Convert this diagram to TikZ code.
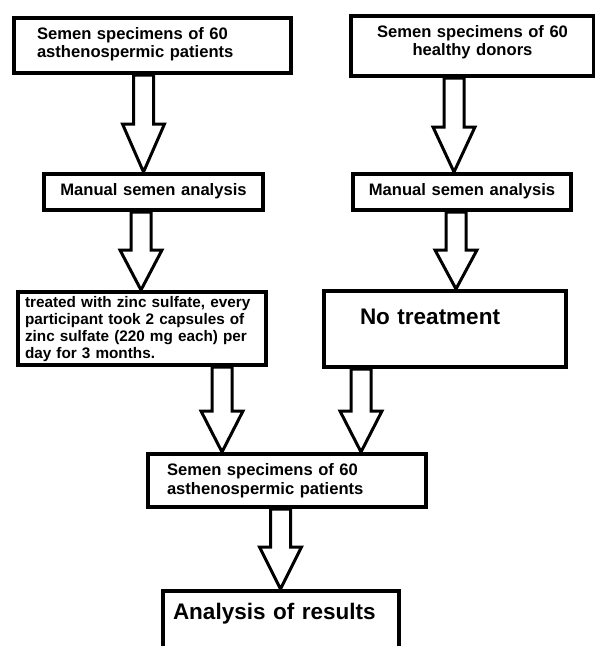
\documentclass[tikz,border=0pt]{standalone}
\usepackage{fontspec}
\setmainfont{Liberation Sans}
\usetikzlibrary{calc}

% wide hollow arrow: [head length]{x}{from node}{to node}
\newcommand{\blockarrow}[4][41]{%
  \path (#2,0 |- #3.south) coordinate (top) (#2,0 |- #4.north) coordinate (tip);
  \draw[blockarr] ([xshift=-10pt]top) -- ([xshift=-10pt,yshift=#1pt]tip)
    -- ([xshift=-21pt,yshift=#1pt]tip) -- (tip) -- ([xshift=21pt,yshift=#1pt]tip)
    -- ([xshift=10pt,yshift=#1pt]tip) -- ([xshift=10pt]top) -- cycle;}

\begin{document}
\begin{tikzpicture}[x=1pt,y=-1pt,
  box/.style={draw,line width=4pt,anchor=north west,inner ysep=0pt,align=left,
    font=\fontsize{16.6}{18}\selectfont\bfseries},
  blockarr/.style={draw,fill=white,line width=3pt,line join=miter}]
 \useasboundingbox (0,0) rectangle (595,646);
 \node[box,inner xsep=23pt,text width=231pt,text height=21.7pt,text depth=33.3pt]
   (patients) at (12,16) {Semen specimens of 60\\asthenospermic patients};
 \node[box,align=center,inner xsep=10pt,text width=223pt,text height=21pt,text depth=39pt]
   (donors) at (349,14) {Semen specimens of 60\\healthy donors};
 \node[box,align=center,inner xsep=10pt,text width=199pt,text height=21pt,text depth=15pt]
   (manpat) at (42,172) {Manual semen analysis};
 \node[box,align=center,inner xsep=10pt,text width=198pt,text height=21pt,text depth=15pt]
   (mandon) at (351,172) {Manual semen analysis};
 \node[box,inner xsep=7pt,text width=234pt,text height=15pt,text depth=58pt,
   font=\fontsize{15.3}{17}\selectfont\bfseries] (zinc) at (16,290)
   {treated with zinc sulfate, every\\participant took 2 capsules of\\zinc sulfate (220 mg each) per\\day for 3 months.};
 \node[box,inner xsep=36pt,text width=170pt,text height=33pt,text depth=43pt,
   font=\fontsize{22.5}{24}\selectfont\bfseries] (notreat) at (322,289) {No treatment};
 \node[box,inner xsep=19pt,text width=240pt,text height=21.3pt,text depth=31.7pt,
   font=\fontsize{16.6}{19}\selectfont\bfseries] (pooled) at (146,452)
   {Semen specimens of 60\\asthenospermic patients};
 \node[box,inner xsep=10pt,text width=216pt,text height=28pt,text depth=32pt,
   font=\fontsize{22.5}{24}\selectfont\bfseries] (results) at (161,589) {Analysis of results};
 \blockarrow[48]{143.5}{patients}{manpat}
 \blockarrow[45]{454}{donors}{mandon}
 \blockarrow[40]{141}{manpat}{zinc}
 \blockarrow[39]{456}{mandon}{notreat}
 \blockarrow{222}{zinc}{pooled}
 \blockarrow{361}{notreat}{pooled}
 \blockarrow[42]{280.5}{pooled}{results}
\end{tikzpicture}
\end{document}
